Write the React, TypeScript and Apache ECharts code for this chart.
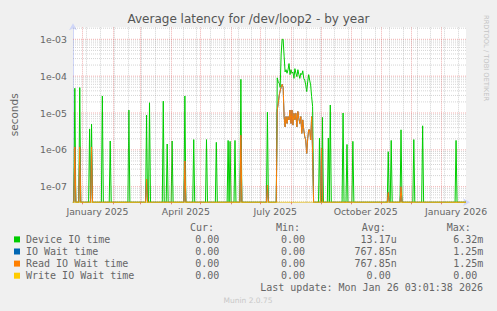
import React, { useEffect, useRef } from 'react';
import * as echarts from 'echarts';

// ---------- texts ----------
const TITLE = 'Average latency for /dev/loop2 - by year';
const Y_NAME = 'seconds';
const SIDE_TEXT = 'RRDTOOL / TOBI OETIKER';
const FOOTER = 'Munin 2.0.75';
const LAST_UPDATE = 'Last update: Mon Jan 26 03:01:38 2026';

// ---------- axes ----------
const START = '2024-12-22T03:01:38Z';
const END = '2026-01-26T03:01:38Z';
const Y_MIN = 3.77e-8;
const Y_MAX = 2.12e-3;
const xLabelDates = ['2025-01-16', '2025-04-16', '2025-07-16', '2025-10-16', '2026-01-16'];
const xLabelTexts = ['January 2025', 'April 2025', 'July 2025', 'October 2025', 'January 2026'];
const monthStarts = [
  '2025-01-01', '2025-02-01', '2025-03-01', '2025-04-01', '2025-05-01', '2025-06-01',
  '2025-07-01', '2025-08-01', '2025-09-01', '2025-10-01', '2025-11-01', '2025-12-01', '2026-01-01',
];
const minorGridFirst = '2025-01-05';
const minorGridStepDays = 14;
const yDecades = [-8, -7, -6, -5, -4, -3];
const yMinorMultipliers = [2, 3, 4, 5, 6, 7, 8, 9];

// ---------- data (daily averages, seconds; days not listed are 0) ----------
const deviceSpikeDates = [
  '2024-12-24', '2024-12-29', '2025-01-08', '2025-01-10', '2025-01-21', '2025-01-29',
  '2025-02-17', '2025-03-07', '2025-03-10', '2025-03-24', '2025-03-28', '2025-04-02',
  '2025-04-15', '2025-04-24', '2025-05-07', '2025-05-17', '2025-05-29', '2025-05-31',
  '2025-06-05', '2025-06-11', '2025-07-08',
  '2025-08-30', '2025-09-02', '2025-09-08', '2025-09-10', '2025-09-23', '2025-09-27',
  '2025-10-03', '2025-11-08', '2025-11-11', '2025-11-21', '2025-12-04', '2025-12-13', '2026-01-16',
];
const deviceSpikeValues = [
  4.7e-5, 4.9e-5, 3.7e-6, 5.0e-6, 2.9e-5, 1.74e-6,
  1.2e-5, 8.8e-6, 1.9e-5, 2.1e-5, 1.44e-6, 1.74e-6,
  2.9e-5, 1.9e-6, 1.9e-6, 1.6e-6, 1.8e-6, 1.7e-6,
  1.8e-6, 8.2e-5, 1.05e-5,
  2.1e-6, 7.6e-6, 2.1e-6, 1.65e-5, 1.0e-5, 1.4e-6,
  1.7e-6, 8.9e-7, 1.8e-6, 3.5e-6, 1.9e-6, 4.5e-6, 1.8e-6,
];
const burstStart = '2025-07-18';
const deviceBurstValues = [
  9.0e-5, 7.0e-5, 6.5e-5, 5.0e-5, 4.0e-4, 1.0e-3, 1.0e-3, 3.5e-4, 1.3e-4, 1.5e-4,
  1.2e-4, 1.5e-4, 2.2e-4, 1.1e-4, 1.5e-4, 1.2e-4, 1.3e-4, 8.7e-5, 1.6e-4, 1.2e-4,
  9.7e-5, 1.5e-4, 1.1e-4, 8.7e-5, 1.2e-4, 1.1e-4, 1.4e-4, 8.7e-5, 7.8e-5, 5.8e-5,
  3.8e-5, 7.0e-5, 1.1e-4, 7.8e-5, 5.8e-5, 2.8e-5, 1.5e-5,
];
const readSpikeDates = [
  '2024-12-24', '2024-12-29', '2025-01-10', '2025-03-07', '2025-04-15', '2025-06-11',
  '2025-07-08', '2025-09-01', '2025-11-08', '2025-11-21',
];
const readSpikeValues = [1.2e-6, 1.2e-6, 1.2e-6, 1.6e-7, 5.0e-7, 2.5e-6, 1.1e-7, 1.1e-6, 7.0e-8, 1.0e-7];
const readBurstValues = [
  1.2e-5, 1.8e-5, 3.0e-5, 4.0e-5, 5.0e-5, 6.0e-5, 5.0e-5, 8.0e-6, 4.2e-6, 8.0e-6,
  5.2e-6, 8.0e-6, 6.5e-6, 1.2e-5, 5.2e-6, 1.2e-5, 4.7e-6, 9.8e-6, 6.5e-6, 9.8e-6,
  4.2e-6, 1.1e-5, 7.0e-6, 5.2e-6, 8.0e-6, 2.8e-6, 6.5e-6, 3.5e-6, 2.3e-6, 1.85e-6,
  8.0e-7, 2.0e-6, 3.5e-6, 3.5e-6, 1.85e-6, 8.0e-6, 8.0e-7,
];
// IO Wait time equals Read IO Wait time; Write IO Wait time is zero throughout
const ioWaitSpikeDates = readSpikeDates;
const ioWaitSpikeValues = readSpikeValues;
const ioWaitBurstValues = readBurstValues;
const writeSpikeDates: string[] = [];
const writeSpikeValues: number[] = [];
const writeBurstValues: number[] = [];

// ---------- legend ----------
const seriesNames = ['Device IO time', 'IO Wait time', 'Read IO Wait time', 'Write IO Wait time'];
const seriesColors = ['#00cc00', '#0066b3', '#ff8000', '#ffcc00'];
const legendHeaders = ['Cur:', 'Min:', 'Avg:', 'Max:'];
const curValues = ['0.00', '0.00', '0.00', '0.00'];
const minValues = ['0.00', '0.00', '0.00', '0.00'];
const avgValues = ['13.17u', '767.85n', '767.85n', '0.00'];
const maxValues = ['6.32m', '1.25m', '1.25m', '0.00'];

const DAY = 86400000;

function buildSeries(dates: string[], values: number[], burst: number[]) {
  const map = new Map<number, number>();
  dates.forEach((d, i) => map.set(Date.parse(d), values[i]));
  const b0 = Date.parse(burstStart);
  burst.forEach((v, i) => map.set(b0 + i * DAY, v));
  const first = Date.parse(START.slice(0, 10));
  const last = Date.parse(END.slice(0, 10));
  const out: [number, number][] = [];
  for (let t = first; t <= last; t += DAY) {
    const v = map.get(t) ?? 0;
    out.push([t, Math.max(v, Y_MIN)]); // zero drawn on the bottom edge, like rrdtool
  }
  return out;
}

function fmtExp(v: number) {
  const l = Math.log10(v);
  const e = Math.round(l);
  if (Math.abs(l - e) > 1e-6) return '';
  return '1e' + (e < 0 ? '-' : '+') + String(Math.abs(e)).padStart(2, '0');
}

export default function App() {
  const ref = useRef<HTMLDivElement>(null);
  useEffect(() => {
    if (!ref.current) return;
    const chart = echarts.init(ref.current, undefined, { renderer: 'svg' });
    const startMs = Date.parse(START);
    const endMs = Date.parse(END);
    const xLabelMs = xLabelDates.map((d) => Date.parse(d));
    const monthMs = monthStarts.map((d) => Date.parse(d));

    const MAJOR = { color: 'rgba(222,79,79,0.45)', width: 1, type: [1, 1] as any };
    const MINOR = { color: 'rgba(143,143,143,0.38)', width: 1, type: [1, 1] as any };

    // vertical grid lines (markLine on the x axis)
    const vLines: any[] = [];
    for (let t = Date.parse(minorGridFirst); t < endMs; t += minorGridStepDays * DAY) {
      vLines.push({ xAxis: t, lineStyle: MINOR });
    }
    monthMs.forEach((t) => vLines.push({ xAxis: t, lineStyle: MAJOR }));

    // horizontal grid lines as line series across the full x range
    const minorH: any[] = [];
    const majorH: any[] = [];
    yDecades.forEach((n) => {
      const dec = Math.pow(10, n);
      if (dec > Y_MIN && dec < Y_MAX) majorH.push([startMs, dec], [endMs, dec], [endMs, null]);
      yMinorMultipliers.forEach((k) => {
        const v = k * dec;
        if (v > Y_MIN && v < Y_MAX) minorH.push([startMs, v], [endMs, v], [endMs, null]);
      });
    });

    const allSpikeDates = [deviceSpikeDates, ioWaitSpikeDates, readSpikeDates, writeSpikeDates];
    const allSpikeValues = [deviceSpikeValues, ioWaitSpikeValues, readSpikeValues, writeSpikeValues];
    const allBurst = [deviceBurstValues, ioWaitBurstValues, readBurstValues, writeBurstValues];

    const dataSeries = seriesNames.map((name, i) => ({
      name,
      type: 'line',
      data: buildSeries(allSpikeDates[i], allSpikeValues[i], allBurst[i]),
      showSymbol: false,
      symbol: 'none',
      lineStyle: { color: seriesColors[i], width: 1 },
      itemStyle: { color: seriesColors[i] },
      z: 3,
      silent: true,
    }));

    const FONT = '"DejaVu Sans", sans-serif';
    const MONO = '"DejaVu Sans Mono", monospace';
    const graphics: any[] = [];
    graphics.push({
      type: 'text', x: 248.5, y: 19,
      style: { text: TITLE, fill: '#555', font: `12px ${FONT}`, align: 'center', verticalAlign: 'middle' },
    });
    graphics.push({
      type: 'text', x: 486, y: 15, rotation: -Math.PI / 2,
      style: { text: SIDE_TEXT, fill: '#c4c4c4', font: `6.7px ${FONT}`, align: 'left', verticalAlign: 'middle' },
    });
    const headerX = [190, 276, 361.7, 446.7];
    legendHeaders.forEach((h, i) => {
      graphics.push({
        type: 'text', x: headerX[i], y: 227.3,
        style: { text: h, fill: '#666', font: `10px ${MONO}`, align: 'left', verticalAlign: 'middle' },
      });
    });
    const colEnd = [225.3, 311, 396.7, 483.3];
    const charW = 6.02;
    const cols = [curValues, minValues, avgValues, maxValues];
    seriesNames.forEach((name, r) => {
      const y = 239.4 + r * 12.1;
      graphics.push({
        type: 'rect', shape: { x: 14, y: y - 3, width: 6, height: 6 },
        style: { fill: seriesColors[r] },
      });
      graphics.push({
        type: 'text', x: 26, y,
        style: { text: name, fill: '#666', font: `10px ${MONO}`, align: 'left', verticalAlign: 'middle' },
      });
      cols.forEach((col, c) => {
        const s = col[r];
        const hasUnit = /[a-zA-Z]$/.test(s);
        graphics.push({
          type: 'text', x: colEnd[c] - (hasUnit ? 0 : charW), y,
          style: { text: s, fill: '#666', font: `10px ${MONO}`, align: 'right', verticalAlign: 'middle' },
        });
      });
    });
    graphics.push({
      type: 'text', x: 483, y: 287.8,
      style: { text: LAST_UPDATE, fill: '#666', font: `10px ${MONO}`, align: 'right', verticalAlign: 'middle' },
    });
    graphics.push({
      type: 'text', x: 248, y: 300.3,
      style: { text: FOOTER, fill: '#c8c8c8', font: `7.5px ${FONT}`, align: 'center', verticalAlign: 'middle' },
    });

    chart.setOption({
      animation: false,
      backgroundColor: '#f0f0f0',
      grid: {
        left: 66, top: 27.3, width: 400, height: 175,
        show: true, backgroundColor: '#ffffff', borderWidth: 0,
      },
      xAxis: {
        type: 'value', min: startMs, max: endMs,
        splitLine: { show: false },
        axisLine: {
          show: true, lineStyle: { color: '#cfd6f8', width: 1 },
          symbol: ['none', 'arrow'], symbolSize: [6, 7], symbolOffset: [0, 4],
        },
        axisTick: { show: true, customValues: monthMs, length: 2, lineStyle: { color: 'rgba(222,79,79,0.7)' } },
        axisLabel: {
          customValues: xLabelMs,
          formatter: (v: number) => {
            const i = xLabelMs.findIndex((m) => Math.abs(m - v) < 1000);
            return i >= 0 ? xLabelTexts[i] : '';
          },
          color: '#666', fontFamily: 'DejaVu Sans', fontSize: 9.33, margin: 5,
        },
      },
      yAxis: {
        type: 'log', logBase: 10, min: Y_MIN, max: Y_MAX,
        name: Y_NAME, nameLocation: 'middle', nameGap: 54, nameRotate: 90,
        nameTextStyle: { color: '#666', fontFamily: 'DejaVu Sans', fontSize: 10.5 },
        splitLine: { show: false },
        minorSplitLine: { show: false },
        axisLine: {
          show: true, lineStyle: { color: '#cfd6f8', width: 1 },
          symbol: ['none', 'arrow'], symbolSize: [6, 7], symbolOffset: [0, 4],
        },
        axisTick: { show: false },
        axisLabel: {
          formatter: fmtExp, color: '#666', fontFamily: 'DejaVu Sans', fontSize: 9.33, margin: 6,
          showMinLabel: false, showMaxLabel: false,
        },
      },
      graphic: graphics,
      series: [
        {
          type: 'line', data: minorH, silent: true, z: 1, showSymbol: false, symbol: 'none',
          connectNulls: false, lineStyle: MINOR,
          markLine: { silent: true, symbol: 'none', label: { show: false }, animation: false, data: vLines },
        },
        {
          type: 'line', data: majorH, silent: true, z: 2, showSymbol: false, symbol: 'none',
          connectNulls: false, lineStyle: MAJOR,
        },
        ...dataSeries,
      ],
    });
    return () => chart.dispose();
  }, []);
  return (
    <div
      ref={ref}
      style={{ position: 'fixed', left: 0, top: 0, width: 497, height: 311, background: '#f0f0f0' }}
    />
  );
}
